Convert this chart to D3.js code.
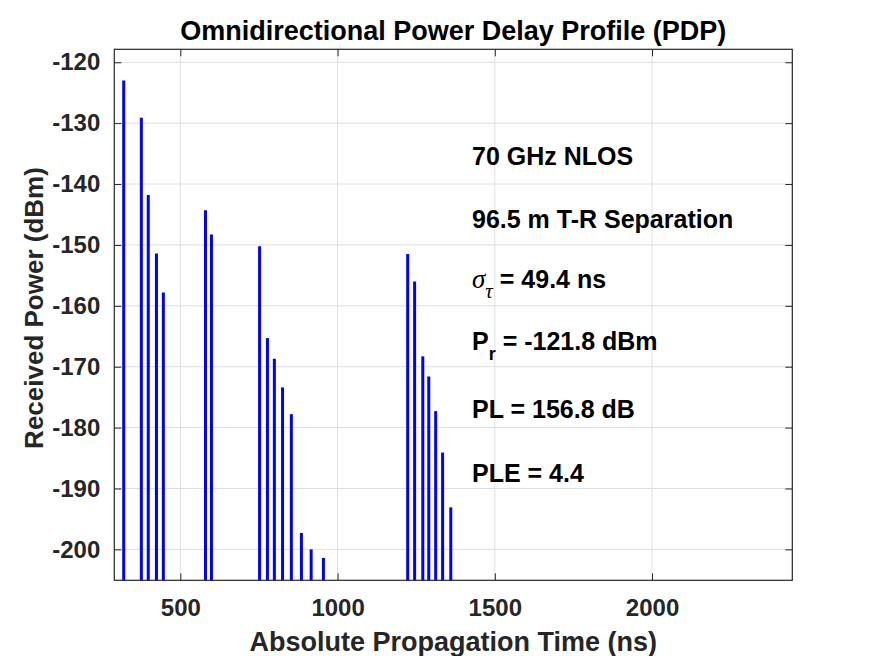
<!DOCTYPE html>
<html><head><meta charset="utf-8">
<script src="https://cdn.jsdelivr.net/npm/d3@7/dist/d3.min.js"></script>
<style>
html,body{margin:0;padding:0;background:#fff;}
svg{display:block;}
text{font-family:"Liberation Sans",Arial,sans-serif;}
</style></head>
<body>
<script>
// Data
const delays = [320, 376, 398, 424, 446, 580, 599, 752, 777, 799, 825, 853, 885, 916, 955, 1223, 1245, 1271, 1290, 1312, 1334, 1360];
const powers = [-123.0, -129.1, -141.8, -151.4, -157.8, -144.3, -148.3, -150.2, -165.3, -168.7, -173.4, -177.8, -197.3, -200.0, -201.4, -151.5, -156.0, -168.3, -171.6, -177.3, -184.1, -193.1];
const xTicks = [500, 1000, 1500, 2000];
const yTicks = [-200, -190, -180, -170, -160, -150, -140, -130, -120];
const titleText = "Omnidirectional Power Delay Profile (PDP)";
const xLabel = "Absolute Propagation Time (ns)";
const yLabel = "Received Power (dBm)";
const annotations = ["70 GHz NLOS", "96.5 m T-R Separation", "sigma", "Pr", "PL = 156.8 dB", "PLE = 4.4"];
const sigmaValue = " = 49.4 ns";
const prValue = " = -121.8 dBm";

(function(){
const W = 875, H = 656;
const L = 114.3, R = 792.3, T = 49.3, B = 580.3;
const svg = d3.select("body").append("svg").attr("width", W).attr("height", H);

const x = d3.scaleLinear().domain([290, 2446]).range([L, R]);
const y = d3.scaleLinear().domain([-205.08, -117.87]).range([B, T]);
const fmt = d => String(d);

// grid
const g = svg.append("g");
g.selectAll("line.gx").data(xTicks).enter().append("line")
  .attr("x1", d => x(d)).attr("x2", d => x(d)).attr("y1", T).attr("y2", B)
  .attr("stroke", "#dfdfdf").attr("stroke-width", 1);
g.selectAll("line.gy").data(yTicks).enter().append("line")
  .attr("y1", d => y(d)).attr("y2", d => y(d)).attr("x1", L).attr("x2", R)
  .attr("stroke", "#dfdfdf").attr("stroke-width", 1);

// stems
svg.append("g").selectAll("line").data(delays).enter().append("line")
  .attr("x1", d => x(d)).attr("x2", d => x(d))
  .attr("y1", y.range()[0]).attr("y2", (d, i) => y(powers[i]))
  .attr("stroke", "#0000ff").attr("stroke-width", 3);

// axes (inward ticks on all sides)
const tickLen = 7;
const axisColor = "#262626";
const axB = svg.append("g").attr("transform", `translate(0,${B})`)
  .call(d3.axisBottom(x).tickValues(xTicks).tickSizeInner(-tickLen).tickSizeOuter(0).tickPadding(19).tickFormat(fmt));
const axT = svg.append("g").attr("transform", `translate(0,${T})`)
  .call(d3.axisTop(x).tickValues(xTicks).tickSizeInner(-tickLen).tickSizeOuter(0).tickFormat(""));
const axL = svg.append("g").attr("transform", `translate(${L},0)`)
  .call(d3.axisLeft(y).tickValues(yTicks).tickSizeInner(-tickLen).tickSizeOuter(0).tickPadding(14).tickFormat(fmt));
const axR = svg.append("g").attr("transform", `translate(${R},0)`)
  .call(d3.axisRight(y).tickValues(yTicks).tickSizeInner(-tickLen).tickSizeOuter(0).tickFormat(""));
[axB, axT, axL, axR].forEach(a => {
  a.select(".domain").remove();
  a.selectAll(".tick line").attr("stroke", axisColor).attr("stroke-width", 1);
  a.selectAll(".tick text").attr("fill", axisColor)
    .style("font-family", '"Liberation Sans",Arial,sans-serif')
    .style("font-size", "24px").style("font-weight", "bold");
});
// box
svg.append("rect").attr("x", L).attr("y", T).attr("width", R - L).attr("height", B - T)
  .attr("fill", "none").attr("stroke", axisColor).attr("stroke-width", 1.2);

// title & labels
svg.append("text").attr("x", (L + R) / 2).attr("y", 40).attr("text-anchor", "middle")
  .style("font-size", "27px").style("font-weight", "bold").attr("fill", "#000").text(titleText);
svg.append("text").attr("x", (L + R) / 2).attr("y", 651).attr("text-anchor", "middle")
  .style("font-size", "27px").style("font-weight", "bold").attr("fill", axisColor).text(xLabel);
svg.append("text").attr("transform", `translate(42.5,308) rotate(-90)`).attr("text-anchor", "middle")
  .style("font-size", "26px").style("font-weight", "bold").attr("fill", axisColor).text(yLabel);

// annotations
const ax = 472;
const annY = [-136.8, -147.3, -157.0, -167.3, -178.5, -188.9];
const fs = "25px";
annotations.forEach((t, i) => {
  const txt = svg.append("text").attr("x", ax).attr("y", y(annY[i]))
    .style("font-size", fs).style("font-weight", "bold").attr("fill", "#000");
  if (t === "sigma") {
    txt.append("tspan").style("font-family", '"Liberation Serif",serif').style("font-style", "italic")
      .style("font-weight", "normal").style("font-size", "27px").text("\u03C3");
    txt.append("tspan").attr("dy", 10).style("font-family", '"Liberation Serif",serif').style("font-style", "italic")
      .style("font-weight", "normal").style("font-size", "21px").text("\u03C4");
    txt.append("tspan").attr("dy", -10).text(sigmaValue);
  } else if (t === "Pr") {
    txt.append("tspan").text("P");
    txt.append("tspan").attr("dy", 10).style("font-size", "18px").text("r");
    txt.append("tspan").attr("dy", -10).text(prValue);
  } else {
    txt.text(t);
  }
});
})();
</script>
</body></html>
